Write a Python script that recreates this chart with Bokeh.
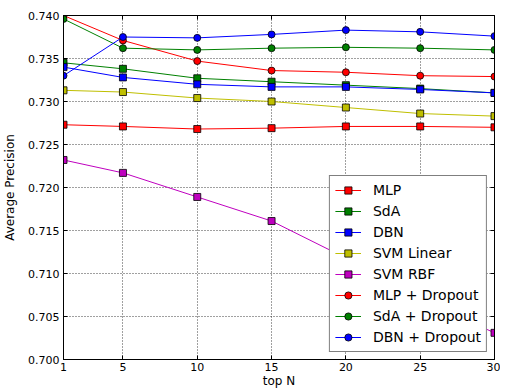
from bokeh.plotting import figure
from bokeh.models import (Range1d, FixedTicker, LinearAxis, Legend, LegendItem,
                          PrintfTickFormatter, CustomLabelingPolicy)
from bokeh.embed import file_html
from bokeh.resources import INLINE

top_n = [1, 5, 10, 15, 20, 25, 30]
mlp = [0.7273, 0.7271, 0.7268, 0.7269, 0.7271, 0.7271, 0.7270]
sda = [0.7345, 0.7338, 0.7327, 0.7323, 0.7319, 0.7315, 0.7310]
dbn = [0.7340, 0.7328, 0.7320, 0.7317, 0.7317, 0.7314, 0.7310]
svm_linear = [0.7313, 0.7311, 0.7304, 0.7300, 0.7293, 0.7286, 0.7283]
svm_rbf = [0.7232, 0.7217, 0.7189, 0.7161, 0.7118, 0.7070, 0.7031]
mlp_dropout = [0.7400, 0.7371, 0.7347, 0.7336, 0.7334, 0.7330, 0.7329]
sda_dropout = [0.7396, 0.7362, 0.7360, 0.7362, 0.7363, 0.7362, 0.7360]
dbn_dropout = [0.7330, 0.7375, 0.7374, 0.7378, 0.7383, 0.7381, 0.7376]

x_ticks = [1, 5, 10, 15, 20, 25, 30]
y_ticks = [0.700, 0.705, 0.710, 0.715, 0.720, 0.725, 0.730, 0.735, 0.740]

series = [
    ("MLP", mlp, "#FF0000", "square"),
    ("SdA", sda, "#008000", "square"),
    ("DBN", dbn, "#0000FF", "square"),
    ("SVM Linear", svm_linear, "#BFBF00", "square"),
    ("SVM RBF", svm_rbf, "#BF00BF", "square"),
    ("MLP + Dropout", mlp_dropout, "#FF0000", "circle"),
    ("SdA + Dropout", sda_dropout, "#008000", "circle"),
    ("DBN + Dropout", dbn_dropout, "#0000FF", "circle"),
]

FONT = "DejaVu Sans"

p = figure(width=500, height=390, output_backend="svg", toolbar_location=None,
           x_range=Range1d(1, 30), y_range=Range1d(0.700, 0.740),
           min_border_left=55, min_border_right=6, min_border_top=15,
           min_border_bottom=0)
p.background_fill_color = "white"
p.border_fill_color = "white"
p.outline_line_color = "black"
p.outline_line_width = 1

# axes
p.xaxis.ticker = FixedTicker(ticks=x_ticks)
p.yaxis.ticker = FixedTicker(ticks=y_ticks)
p.yaxis.formatter = PrintfTickFormatter(format="%.3f")
for ax in (p.xaxis[0], p.yaxis[0]):
    ax.major_tick_in = 4
    ax.major_tick_out = 0
    ax.minor_tick_in = 0
    ax.minor_tick_out = 0
    ax.axis_line_color = "black"
    ax.major_tick_line_color = "black"
    ax.major_label_text_font = FONT
    ax.major_label_text_font_size = "11px"
    ax.major_label_text_color = "black"
    ax.axis_label_text_font = FONT
    ax.axis_label_text_font_size = "12px"
    ax.axis_label_text_font_style = "normal"
    ax.axis_label_text_color = "black"
p.xaxis.axis_label = "top N"
p.yaxis.axis_label = "Average Precision"
p.xaxis.major_label_standoff = 3
p.xaxis.axis_label_standoff = 0
p.yaxis.major_label_standoff = 4
p.yaxis.axis_label_standoff = 8

# mirrored ticks on top and right (no labels)
no_labels = CustomLabelingPolicy(code="return new indices.constructor(indices.size)")
for loc, tk in (("above", x_ticks), ("right", y_ticks)):
    ax = LinearAxis(ticker=FixedTicker(ticks=tk), major_label_policy=no_labels,
                    major_label_overrides={t: "" for t in tk})
    ax.major_tick_in = 4
    ax.major_tick_out = 0
    ax.minor_tick_in = 0
    ax.minor_tick_out = 0
    ax.major_label_standoff = 0
    ax.major_label_text_font_size = "1px"
    ax.axis_line_color = "black"
    p.add_layout(ax, loc)

p.grid.grid_line_color = "black"
p.grid.grid_line_alpha = 0.75
p.grid.grid_line_dash = "1 2"
p.xgrid.ticker = FixedTicker(ticks=x_ticks)
p.ygrid.ticker = FixedTicker(ticks=y_ticks)

items = []
for name, vals, color, marker in series:
    r1 = p.line(top_n, vals, line_color=color, line_width=1)
    r2 = p.scatter(top_n, vals, marker=marker, size=7, fill_color=color,
                   line_color="black", line_width=0.8)
    items.append(LegendItem(label=name, renderers=[r1, r2]))

legend = Legend(items=items, location="bottom_right")
legend.label_text_font = FONT
legend.label_text_font_size = "14px"
legend.label_text_color = "black"
legend.label_height = 18
legend.glyph_height = 18
legend.glyph_width = 26
legend.spacing = 3
legend.padding = 5
legend.margin = 7
legend.label_standoff = 12
legend.border_line_color = "black"
legend.border_line_width = 1
legend.background_fill_color = "white"
legend.background_fill_alpha = 1
p.add_layout(legend, "center")

open("out.html", "w").write(file_html(p, INLINE))
